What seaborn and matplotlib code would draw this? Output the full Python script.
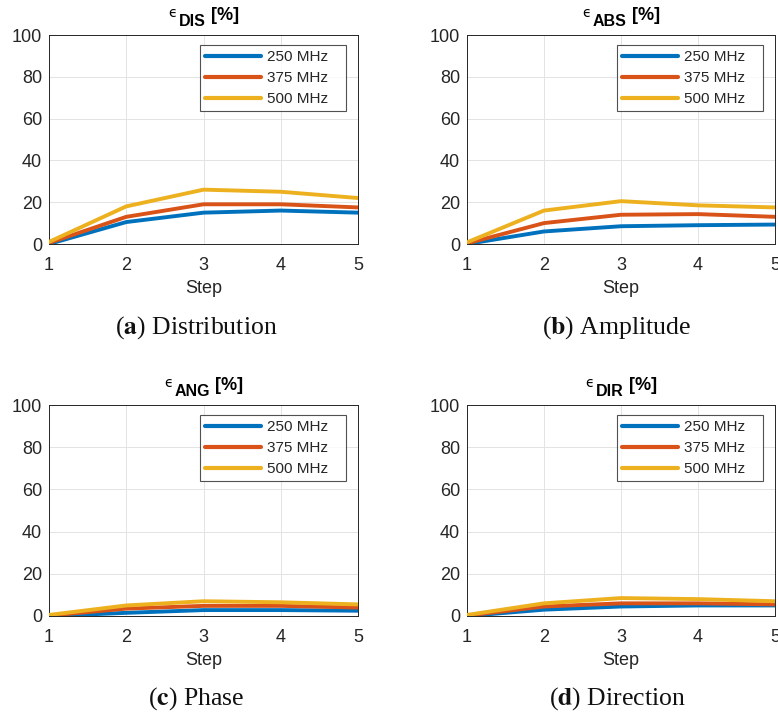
import numpy as np
import pandas as pd
import matplotlib
matplotlib.use("Agg")
import matplotlib.pyplot as plt
import seaborn as sns

steps = [1, 2, 3, 4, 5]
freqs = ["250 MHz", "375 MHz", "500 MHz"]

dis_250 = [0.0, 10.5, 15.0, 16.0, 15.0]
dis_375 = [0.5, 13.0, 19.0, 19.0, 17.5]
dis_500 = [1.0, 18.0, 26.0, 25.0, 22.0]

abs_250 = [0.0, 6.0, 8.5, 9.0, 9.3]
abs_375 = [0.3, 10.0, 14.0, 14.3, 13.0]
abs_500 = [0.8, 16.0, 20.5, 18.5, 17.5]

ang_250 = [0.0, 1.5, 2.8, 2.8, 2.5]
ang_375 = [0.2, 3.5, 4.8, 4.8, 4.0]
ang_500 = [0.5, 5.0, 7.0, 6.5, 5.5]

dir_250 = [0.0, 3.0, 4.5, 5.0, 5.0]
dir_375 = [0.2, 4.5, 6.0, 6.0, 5.5]
dir_500 = [0.5, 6.0, 8.5, 8.0, 7.0]

subs = ["DIS", "ABS", "ANG", "DIR"]
captions = [("a", "Distribution"), ("b", "Amplitude"), ("c", "Phase"), ("d", "Direction")]
yticks = [0, 20, 40, 60, 80, 100]

panels = [
    [dis_250, dis_375, dis_500],
    [abs_250, abs_375, abs_500],
    [ang_250, ang_375, ang_500],
    [dir_250, dir_375, dir_500],
]

colors = ["#0072BD", "#D95319", "#EDB120"]

sns.set_style("whitegrid")
plt.rcParams["font.family"] = ["Liberation Sans", "DejaVu Sans"]

fig = plt.figure(figsize=(7.78, 7.15), dpi=100)

positions = [
    (49, 35, 358, 244),
    (467, 35, 775, 244),
    (49, 405, 358, 616),
    (467, 405, 775, 616),
]
W, H = 778, 715
cap_pos = [(196, 328), (617, 328), (196, 699), (617, 699)]

renderer = fig.canvas.get_renderer()

for i, (series, (l, t, r, b)) in enumerate(zip(panels, positions)):
    ax = fig.add_axes([l / W, 1 - b / H, (r - l) / W, (b - t) / H])
    rows = []
    for f, vals in zip(freqs, series):
        for s, v in zip(steps, vals):
            rows.append({"Step": s, "Value": v, "Freq": f})
    df = pd.DataFrame(rows)
    sns.lineplot(data=df, x="Step", y="Value", hue="Freq", palette=colors,
                 linewidth=2.8, ax=ax, estimator=None, zorder=3)
    ax.set_xlim(1, 5)
    ax.set_ylim(0, 100)
    ax.set_xticks(steps)
    ax.set_yticks(yticks)
    ax.set_xlabel("Step", fontsize=13, color="#262626", labelpad=5)
    ax.set_ylabel("")
    ax.tick_params(axis="both", labelsize=13, colors="#262626", direction="in",
                   length=3, width=0.6)
    ax.tick_params(axis="x", pad=9)
    ax.tick_params(axis="y", pad=5)
    ax.grid(True, color="#e3e3e3", linewidth=0.7)
    for sp in ax.spines.values():
        sp.set_color("#262626")
        sp.set_linewidth(0.7)

    # title: small epsilon + bold subscript + bold [%], laid out and centred
    cx_ax = (l + r) / 2
    t_eps = fig.text(0, 1 - (t - 22) / H, "\u03f5", fontsize=10,
                     family=["DejaVu Sans"], ha="left", va="center", color="black")
    t_sub = fig.text(0, 1 - (t - 13) / H, subs[i], fontsize=11.5,
                     fontweight="bold", ha="left", va="center", color="black")
    t_pct = fig.text(0, 1 - (t - 19) / H, "[%]", fontsize=13,
                     fontweight="bold", ha="left", va="center", color="black")
    w_eps = t_eps.get_window_extent(renderer).width
    w_sub = t_sub.get_window_extent(renderer).width
    w_pct = t_pct.get_window_extent(renderer).width
    gap1, gap2 = 2, 5
    total = w_eps + gap1 + w_sub + gap2 + w_pct
    x0 = cx_ax - total / 2
    t_eps.set_x(x0 / W)
    t_sub.set_x((x0 + w_eps + gap1) / W)
    t_pct.set_x((x0 + w_eps + gap1 + w_sub + gap2) / W)

    handles, labels = ax.get_legend_handles_labels()
    leg = ax.legend(handles, [lb + "   " for lb in labels], loc="upper right",
                    fontsize=11, frameon=True, fancybox=False,
                    handlelength=3.7, handletextpad=0.35, borderpad=0.35,
                    labelspacing=0.45, borderaxespad=0.0,
                    bbox_to_anchor=((r - 12 - l) / (r - l), (b - t - 10) / (b - t)))
    leg.get_frame().set_edgecolor("#262626")
    leg.get_frame().set_linewidth(0.8)
    for line in leg.get_lines():
        line.set_linewidth(3.0)

    letter, word = captions[i]
    cx, cy = cap_pos[i]
    fig.text(cx / W, 1 - cy / H, r"($\mathbf{" + letter + r"}$) " + word,
             ha="center", va="center", fontsize=18.5, family="Liberation Serif",
             math_fontfamily="stix", color="#111111")

fig.savefig("out.png", dpi=100)
